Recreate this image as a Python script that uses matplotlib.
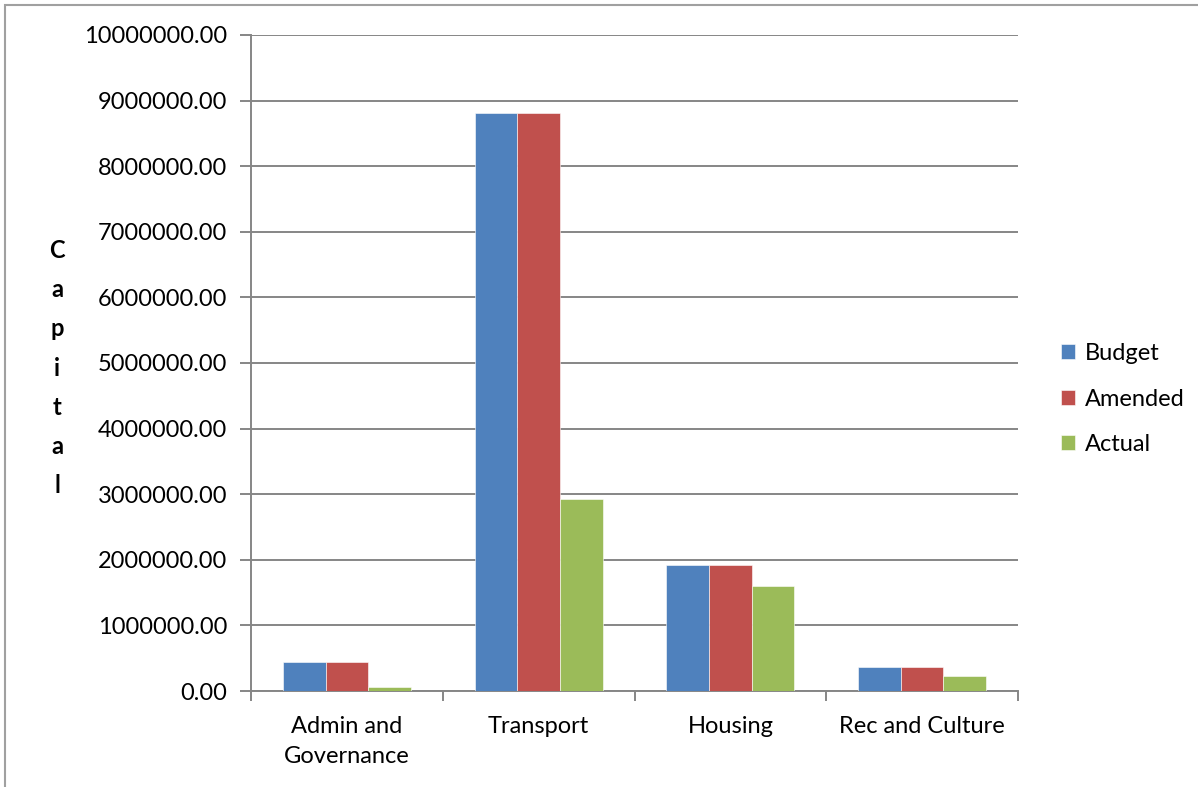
import matplotlib.pyplot as plt
from matplotlib.patches import Rectangle
import numpy as np

plt.rcParams['font.family'] = ['Lato', 'DejaVu Sans']

categories = ['Admin and\nGovernance', 'Transport', 'Housing', 'Rec and Culture']
budget = [442000, 8810000, 1914000, 365000]
amended = [442000, 8810000, 1914000, 365000]
actual = [66000, 2924000, 1599000, 228000]
series_names = ['Budget', 'Amended', 'Actual']
colors = ['#4f81bd', '#c0504d', '#9bbb59']

fig = plt.figure(figsize=(11.98, 7.87), dpi=100)
ax = fig.add_axes([251 / 1198, 1 - 691 / 787, (1018 - 251) / 1198, (691 - 35) / 787])

# outer chart border (runs off right/bottom like the original)
fig.patches.append(Rectangle((5 / 1198, -0.05), 1.2, 1 - 5 / 787 + 0.05,
                             transform=fig.transFigure, fill=False,
                             edgecolor='#a0a0a0', linewidth=1.5))

x = np.arange(len(categories))
w = 1 / 4.5
for i, (vals, name) in enumerate(zip([budget, amended, actual], series_names)):
    ax.bar(x + (i - 1) * w, vals, width=w, color=colors[i], label=name,
           edgecolor='white', linewidth=0.4, zorder=3)

ax.set_xlim(-0.5, len(categories) - 0.5)
ax.set_ylim(0, 10000000)
ax.set_yticks(np.arange(0, 10000001, 1000000))
ax.set_yticklabels(['%.2f' % v for v in np.arange(0, 10000001, 1000000)])
ax.yaxis.grid(True, color='#868686', linewidth=1.4, zorder=0)
ax.set_xticks(np.arange(-0.5, len(categories), 1))
ax.set_xticklabels([])
ax.set_xticks(x, minor=True)
ax.set_xticklabels(categories, minor=True, fontsize=17, linespacing=1.55)
ax.tick_params(axis='x', which='minor', length=0, pad=18)
ax.tick_params(axis='x', which='major', length=7, color='#868686', width=1.4)
ax.tick_params(axis='y', length=8, color='#868686', width=1.4, labelsize=17, pad=9)
for s in ['top', 'right']:
    ax.spines[s].set_visible(False)
for s in ['left', 'bottom']:
    ax.spines[s].set_color('#868686')
    ax.spines[s].set_linewidth(1.4)

fig.text(57 / 1198, 1 - 368 / 787, 'C\na\np\ni\nt\na\nl', ha='center', va='center',
         fontsize=17, fontweight='bold', linespacing=1.85)

fig.legend(loc='center left', bbox_to_anchor=(1040 / 1198, 1 - 399 / 787),
           frameon=False, fontsize=17, handlelength=0.6, handleheight=0.6,
           handletextpad=0.4, labelspacing=1.05)

fig.savefig('out.png', dpi=100)
